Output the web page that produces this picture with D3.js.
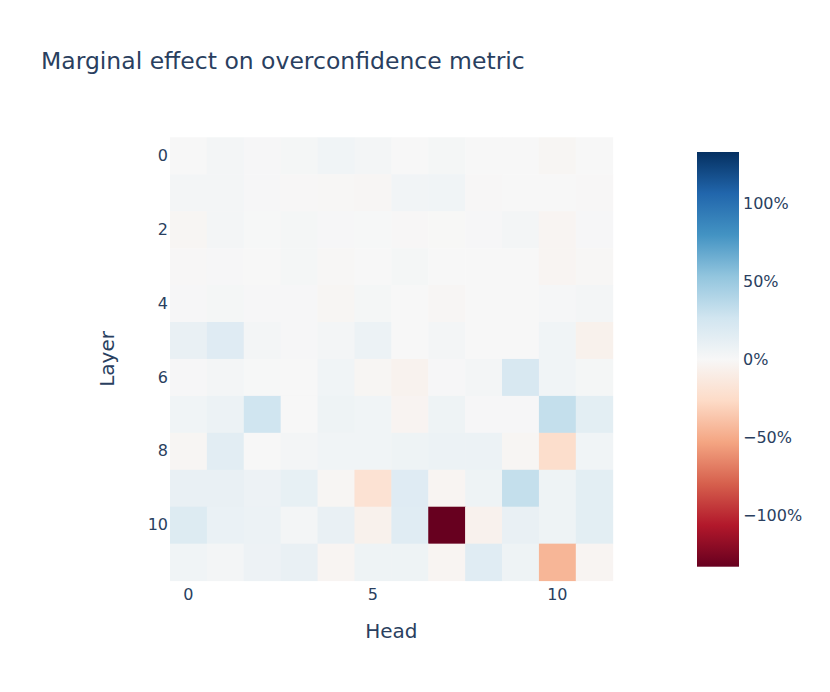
<!DOCTYPE html>
<html>
<head>
<meta charset="utf-8">
<script src="https://cdn.jsdelivr.net/npm/d3@7"></script>
<style>
  body { margin: 0; background: #fff; }
  text { font-family: "DejaVu Sans", sans-serif; fill: #2a3f5f; }
</style>
</head>
<body>
<div id="chart"></div>
<script>
// chart size
var svgWidth = 830;
var svgHeight = 692;

// plot area (square heatmap)
var plot = { left: 170, top: 137.3, width: 442.7, height: 443.3 };

// data: marginal effect (%) per layer (rows) and head (columns)
var layers = d3.range(12);
var heads = d3.range(12);
var layer0  = [0, 3, 1, 2, 5, 3, 0, 2, 0, 0, -2, 0];
var layer1  = [3, 3, 1, -0.5, -1, -1.5, 4, 5, -0.5, 0, 0, -0.5];
var layer2  = [-2, 3, 0.5, 2, 1, 0.5, -0.5, -0.3, 1, 2.5, -3, 1];
var layer3  = [-0.5, 1, 0, 2, -1, 0, 2, 0, 0, 0, -3, -1];
var layer4  = [1, 2, 1, 1, -2, 2, 0, -1.5, 0, 0, 1.5, 3];
var layer5  = [10, 17, 3, 1, 2.5, 8, 0, 3, 0, 0, 5, -6];
var layer6  = [1, 3, 0.5, 0, 5, -2, -5, 1, 2.5, 22, 5, 2];
var layer7  = [5, 8, 27, 0, 6, 5, -3.5, 6, 1, 1, 32, 14];
var layer8  = [-2, 15, 0, 2.5, 5, 5, 6, 8, 8, -2, -24, 5];
var layer9  = [10, 10, 7, 11, -2, -20, 17, -3, 6, 32, 6, 14];
var layer10 = [18, 9, 8, 3, 10, -6, 16, -133, -5.5, 10, 6, 14];
var layer11 = [5, 3, 7, 10, -3, 6, 6, -3, 16, 6, -45, -3];
var values = [layer0, layer1, layer2, layer3, layer4, layer5,
              layer6, layer7, layer8, layer9, layer10, layer11];

// ticks
var xTicks = [0, 5, 10];
var yTicks = [0, 2, 4, 6, 8, 10];
var colorTicks = [-100, -50, 0, 50, 100];
var zMax = 133;

// RdBu colorscale (11 stops)
var rdbu = ["rgb(103,0,31)", "rgb(178,24,43)", "rgb(214,96,77)", "rgb(244,165,130)",
  "rgb(253,219,199)", "rgb(247,247,247)", "rgb(209,229,240)", "rgb(146,197,222)",
  "rgb(67,147,195)", "rgb(33,102,172)", "rgb(5,48,97)"];

var color = d3.scaleLinear()
  .domain(rdbu.map((c, i) => -zMax + i * (2 * zMax) / (rdbu.length - 1)))
  .range(rdbu)
  .interpolate(d3.interpolateRgb);

var svg = d3.select("#chart")
  .append("svg")
  .attr("width", svgWidth)
  .attr("height", svgHeight);

// title
svg.append("text")
  .attr("x", 41)
  .attr("y", 69)
  .style("font-size", "23.5px")
  .text("Marginal effect on overconfidence metric");

var chartGroup = svg.append("g")
  .attr("transform", `translate(${plot.left}, ${plot.top})`);

var xScale = d3.scaleBand().domain(heads).range([0, plot.width]);
var yScale = d3.scaleBand().domain(layers).range([0, plot.height]);

// cells
var cells = [];
values.forEach(function(row, li) {
  row.forEach(function(v, hi) {
    cells.push({ layer: layers[li], head: heads[hi], value: v });
  });
});

chartGroup.selectAll("rect.cell")
  .data(cells)
  .enter()
  .append("rect")
  .attr("class", "cell")
  .attr("x", d => xScale(d.head))
  .attr("y", d => yScale(d.layer))
  .attr("width", xScale.bandwidth() + 0.5)
  .attr("height", yScale.bandwidth() + 0.5)
  .attr("fill", d => color(d.value));

// x axis
var xAxis = chartGroup.append("g")
  .attr("transform", `translate(0, ${plot.height})`)
  .call(d3.axisBottom(xScale).tickValues(xTicks).tickSize(0).tickPadding(8));
xAxis.select(".domain").remove();
xAxis.selectAll("text")
  .style("font-size", "16px")
  .attr("dy", "0.71em")
  .attr("fill", "#2a3f5f");

// y axis
var yAxis = chartGroup.append("g")
  .call(d3.axisLeft(yScale).tickValues(yTicks).tickSize(0).tickPadding(2));
yAxis.select(".domain").remove();
yAxis.selectAll("text")
  .style("font-size", "16px")
  .attr("fill", "#2a3f5f");

// axis titles
chartGroup.append("text")
  .attr("x", plot.width / 2)
  .attr("y", plot.height + 57)
  .attr("text-anchor", "middle")
  .style("font-size", "20px")
  .text("Head");

chartGroup.append("text")
  .attr("transform", "rotate(-90)")
  .attr("x", -plot.height / 2)
  .attr("y", 114 - plot.left)
  .attr("text-anchor", "middle")
  .style("font-size", "20px")
  .text("Layer");

// colorbar
var cb = { x: 697, y: 152, width: 42, height: 414.7 };
var defs = svg.append("defs");
var grad = defs.append("linearGradient")
  .attr("id", "cbgrad")
  .attr("x1", 0).attr("y1", 1).attr("x2", 0).attr("y2", 0);
grad.selectAll("stop")
  .data(rdbu)
  .enter()
  .append("stop")
  .attr("offset", (d, i) => i / (rdbu.length - 1))
  .attr("stop-color", d => d);

var cbScale = d3.scaleLinear()
  .domain([-zMax, zMax])
  .range([cb.y + cb.height, cb.y]);

svg.append("rect")
  .attr("x", cb.x)
  .attr("y", cb.y)
  .attr("width", cb.width)
  .attr("height", cb.height)
  .attr("fill", "url(#cbgrad)");

var cbAxis = svg.append("g")
  .attr("transform", `translate(${cb.x + cb.width}, 0)`)
  .call(d3.axisRight(cbScale).tickValues(colorTicks)
    .tickFormat(d => (d < 0 ? "\u2212" + Math.abs(d) : d) + "%")
    .tickSize(0).tickPadding(4));
cbAxis.select(".domain").remove();
cbAxis.selectAll("text")
  .style("font-size", "16px")
  .attr("fill", "#2a3f5f");
</script>
</body>
</html>
